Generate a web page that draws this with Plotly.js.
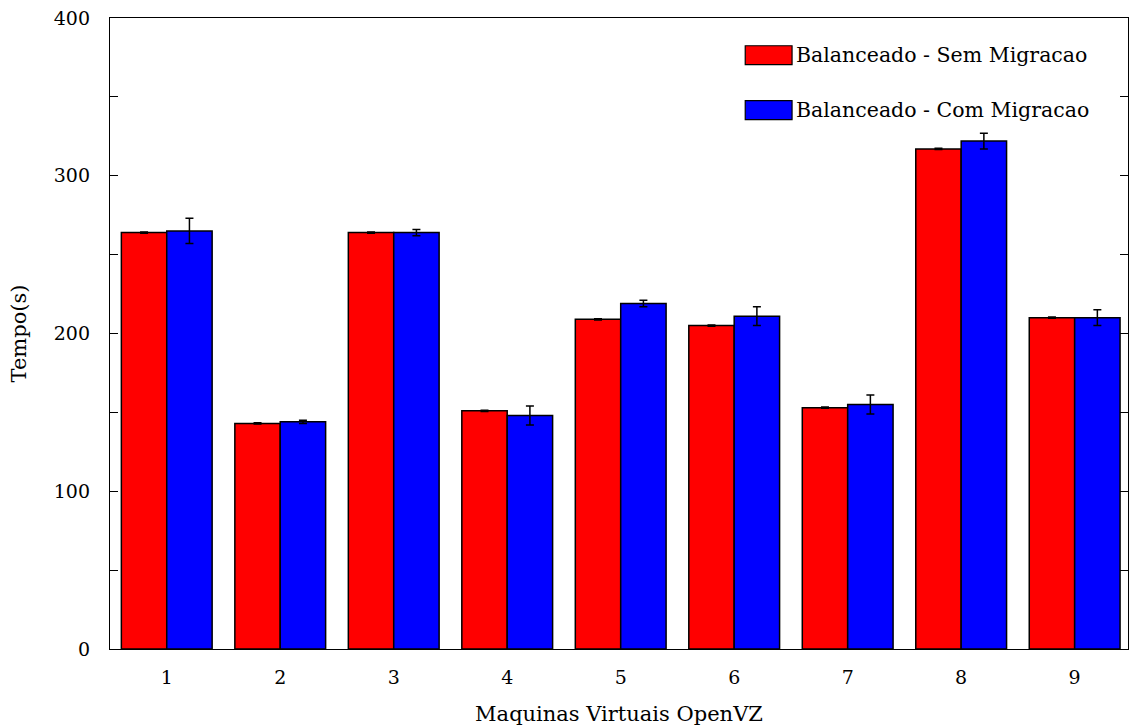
<!DOCTYPE html>
<html>
<head>
<meta charset="utf-8">
<script src="https://cdn.plot.ly/plotly-3.0.1.min.js"></script>
<style>html,body{margin:0;padding:0;background:#fff;}#chart{width:1130px;height:727px;}</style>
</head>
<body>
<div id="chart"></div>
<script>
const categories = [1, 2, 3, 4, 5, 6, 7, 8, 9];
const seriesNames = ["Balanceado - Sem Migracao", "Balanceado - Com Migracao"];
const semMigracao = [264, 143, 264, 151, 209, 205, 153, 317, 210];
const semMigracaoErr = [0.4, 0.4, 0.4, 0.4, 0.4, 0.4, 0.4, 0.4, 0.4];
const comMigracao = [265, 144, 264, 148, 219, 211, 155, 322, 210];
const comMigracaoErr = [8, 1, 2, 6, 2, 6, 6, 5, 5];
const yTickVals = [0, 50, 100, 150, 200, 250, 300, 350, 400];
const yTickText = ["0", "", "100", "", "200", "", "300", "", "400"];
const colors = ["#ff0000", "#0000ff"];

const FONT = "'DejaVu Serif', serif";

const traces = [
  {type: "bar", name: seriesNames[0], x: categories, y: semMigracao,
   marker: {color: colors[0], line: {color: "#000", width: 1.5}},
   error_y: {type: "data", array: semMigracaoErr, visible: true, color: "#000", thickness: 1.5, width: 4},
   showlegend: false},
  {type: "bar", name: seriesNames[1], x: categories, y: comMigracao,
   marker: {color: colors[1], line: {color: "#000", width: 1.5}},
   error_y: {type: "data", array: comMigracaoErr, visible: true, color: "#000", thickness: 1.5, width: 4},
   showlegend: false}
];

const shapes = [];
const annotations = [];
const legY = [0.941, 0.854];
for (let i = 0; i < 2; i++) {
  shapes.push({type: "rect", xref: "paper", yref: "paper",
    x0: 0.624, x1: 0.67, y0: legY[i] - 0.015, y1: legY[i] + 0.015,
    fillcolor: colors[i], line: {color: "#000", width: 1.2}});
  annotations.push({xref: "paper", yref: "paper", x: 0.672, y: legY[i],
    xanchor: "left", yanchor: "middle", showarrow: false, text: seriesNames[i],
    font: {family: FONT, size: 20.5, color: "#000"}});
}

const layout = {
  width: 1130, height: 727,
  margin: {l: 110, r: 2, t: 18, b: 78},
  paper_bgcolor: "#fff", plot_bgcolor: "#fff",
  barmode: "group", bargap: 0.2, bargroupgap: 0,
  font: {family: FONT, size: 19, color: "#000"},
  xaxis: {
    range: [0.5, 9.47], tickvals: categories, ticktext: categories.map(String),
    ticks: "", showgrid: false, zeroline: false,
    showline: true, linecolor: "#000", linewidth: 1.2, mirror: true,
    tickfont: {family: FONT, size: 19}, ticklabelstandoff: 11,
    title: {text: "Maquinas Virtuais OpenVZ", font: {family: FONT, size: 21}, standoff: 19}
  },
  yaxis: {
    range: [0, 400], tickvals: yTickVals, ticktext: yTickText,
    ticks: "inside", ticklen: 8, tickwidth: 1.2, tickcolor: "#000",
    showgrid: false, zeroline: false,
    showline: true, linecolor: "#000", linewidth: 1.2, mirror: "ticks",
    tickfont: {family: FONT, size: 19}, ticklabelstandoff: 15,
    title: {text: "Tempo(s)", font: {family: FONT, size: 21}, standoff: 21}
  },
  shapes: shapes,
  annotations: annotations
};

Plotly.newPlot("chart", traces, layout, {displayModeBar: false, staticPlot: true});
</script>
</body>
</html>
